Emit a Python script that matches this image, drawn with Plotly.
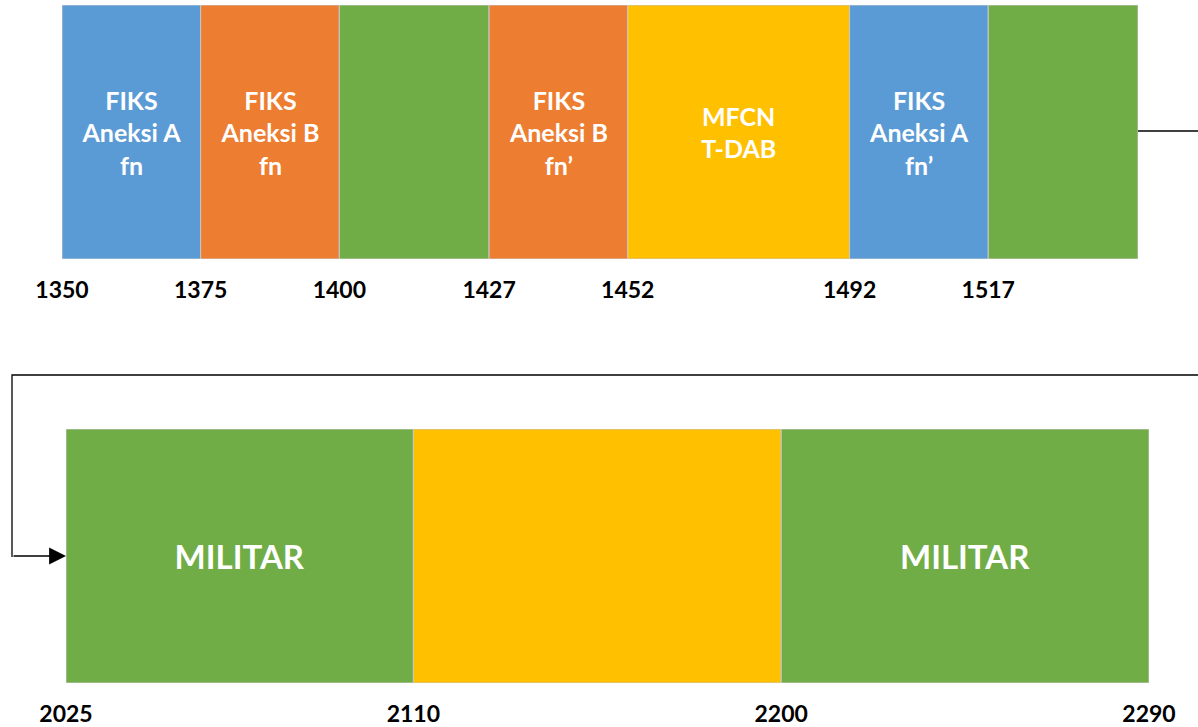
import plotly.graph_objects as go

W, H = 1198, 727

# ---- data ----
top_starts = [1350, 1375, 1400, 1427, 1452, 1492, 1517]
top_ends = [1375, 1400, 1427, 1452, 1492, 1517, 1544]
top_labels = ["FIKS<br>Aneksi A<br>fn", "FIKS<br>Aneksi B<br>fn", "", "FIKS<br>Aneksi B<br>fn’",
              "MFCN<br>T-DAB", "FIKS<br>Aneksi A<br>fn’", ""]
top_colors = ["#5B9BD5", "#ED7D31", "#70AD47", "#ED7D31", "#FFC000", "#5B9BD5", "#70AD47"]
top_ticks = [1350, 1375, 1400, 1427, 1452, 1492, 1517]

bot_starts = [2025, 2110, 2200]
bot_ends = [2110, 2200, 2290]
bot_labels = ["MILITAR", "", "MILITAR"]
bot_colors = ["#70AD47", "#FFC000", "#70AD47"]
bot_ticks = [2025, 2110, 2200, 2290]

FONT = "Lato"

fig = go.Figure()
fig.add_trace(go.Bar(
    orientation="h", y=[0] * len(top_starts),
    x=[e - s for s, e in zip(top_starts, top_ends)], base=top_starts, width=1,
    marker=dict(color=top_colors, line=dict(color="#C8C8C8", width=1)),
    text=top_labels, textposition="inside", insidetextanchor="middle", textangle=0,
    constraintext="none",
    textfont=dict(family=FONT, size=25, color="white", weight="bold"),
    hoverinfo="skip", xaxis="x", yaxis="y"))
fig.add_trace(go.Bar(
    orientation="h", y=[0] * len(bot_starts),
    x=[e - s for s, e in zip(bot_starts, bot_ends)], base=bot_starts, width=1,
    marker=dict(color=bot_colors, line=dict(color="#C8C8C8", width=1)),
    text=bot_labels, textposition="inside", insidetextanchor="middle", textangle=0,
    constraintext="none",
    textfont=dict(family=FONT, size=33, color="white", weight="bold"),
    hoverinfo="skip", xaxis="x2", yaxis="y2"))

tickfont = dict(family=FONT, size=23, color="black", weight="bold")
fig.update_layout(
    width=W, height=H, margin=dict(l=0, r=0, t=0, b=0, autoexpand=False),
    paper_bgcolor="white", plot_bgcolor="white", showlegend=False, barmode="overlay",
    xaxis=dict(domain=[62 / W, 1138 / W], range=[top_starts[0], top_ends[-1]], anchor="y",
               tickvals=top_ticks, ticktext=[str(t) for t in top_ticks], tickfont=tickfont,
               ticks="outside", ticklen=10, tickcolor="rgba(0,0,0,0)", automargin=False,
               showgrid=False, zeroline=False, showline=False, fixedrange=True),
    yaxis=dict(domain=[1 - 259 / H, 1 - 5 / H], range=[-0.5, 0.5], visible=False,
               automargin=False, fixedrange=True),
    xaxis2=dict(domain=[66 / W, 1149 / W], range=[bot_starts[0], bot_ends[-1]], anchor="y2",
                tickvals=bot_ticks, ticktext=[str(t) for t in bot_ticks], tickfont=tickfont,
                ticks="outside", ticklen=10, tickcolor="rgba(0,0,0,0)", automargin=False,
                showgrid=False, zeroline=False, showline=False, fixedrange=True),
    yaxis2=dict(domain=[1 - 683 / H, 1 - 429 / H], range=[-0.5, 0.5], visible=False,
                automargin=False, fixedrange=True),
)

# connector lines
def px(x):
    return x / W

def py(y):
    return 1 - y / H

fig.add_shape(type="line", xref="paper", yref="paper",
              x0=px(1138), x1=px(1198), y0=py(131), y1=py(131),
              line=dict(color="black", width=1.3))
fig.add_shape(type="path", xref="paper", yref="paper",
              path=f"M {px(1198)} {py(375)} L {px(12)} {py(375)} L {px(12)} {py(557)}",
              line=dict(color="black", width=1.3))
fig.add_annotation(x=bot_starts[0], y=0, xref="x2", yref="y2", ax=-54, ay=0,
                   showarrow=True, arrowhead=2, arrowsize=2.6, arrowwidth=1.3,
                   arrowcolor="black", text="")

fig.write_html("out.html", config={"displayModeBar": False},
               post_script="document.body.style.margin='0';document.body.style.overflow='hidden';")
